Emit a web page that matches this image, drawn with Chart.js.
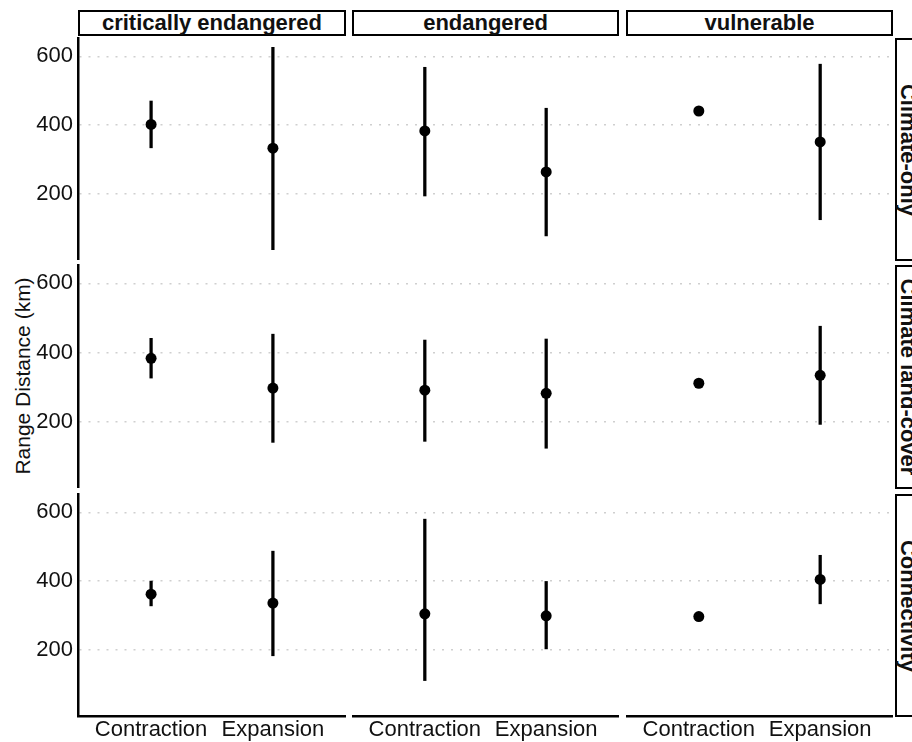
<!DOCTYPE html>
<html>
<head>
<meta charset="utf-8">
<script src="https://cdn.jsdelivr.net/npm/chart.js@4.4.1/dist/chart.umd.min.js"></script>
<style>
  body { margin: 0; background: #fff; }
  #fig { position: relative; width: 912px; height: 742px; overflow: hidden; font-family: "Liberation Sans", Arial, sans-serif; color: #111; }
  #fig canvas { position: absolute; }
  .strip { position: absolute; box-sizing: border-box; border: 2.5px solid #000; background: #fff;
           font-weight: bold; font-size: 22px; display: flex; align-items: center; justify-content: center; white-space: nowrap; }
  .strip.side span { display: block; transform: rotate(90deg); }
  .ytitle { position: absolute; left: 23px; top: 376px; font-size: 21px; white-space: nowrap;
            transform: translate(-50%, -50%) rotate(-90deg); }
</style>
</head>
<body>
<div id="fig">
  <div class="ytitle">Range Distance (km)</div>
</div>
<script>
// facets
const models = ['Climate-only', 'Climate land-cover', 'Connectivity'];
const statuses = ['critically endangered', 'endangered', 'vulnerable'];
const directions = ['Contraction', 'Expansion'];
const yTicks = [200, 400, 600];

// each row: CE contraction, CE expansion, E contraction, E expansion, V contraction, V expansion
const climateOnlyMean = [402, 333, 383, 264, 441, 351];
const climateOnlyLow  = [334, 38, 194, 78, null, 125];
const climateOnlyHigh = [470, 626, 568, 449, null, 577];

const landCoverMean = [383, 297, 291, 282, 311, 334];
const landCoverLow  = [326, 140, 143, 123, null, 192];
const landCoverHigh = [441, 453, 436, 439, null, 476];

const connectivityMean = [362, 336, 305, 299, 297, 405];
const connectivityLow  = [328, 183, 111, 203, null, 334];
const connectivityHigh = [400, 487, 580, 399, null, 475];

const means = [climateOnlyMean, landCoverMean, connectivityMean];
const lows = [climateOnlyLow, landCoverLow, connectivityLow];
const highs = [climateOnlyHigh, landCoverHigh, connectivityHigh];

// panel layout (px)
const colLeft = [78, 352, 626];
const colRight = [346, 619, 893];
const rowTop = [37, 264, 493];
const rowBottom = [260, 488, 716];

const fig = document.getElementById('fig');
const tickFont = { family: '"Liberation Sans", Arial, sans-serif', size: 22 };

statuses.forEach((s, c) => {
  const d = document.createElement('div');
  d.className = 'strip';
  d.style.left = colLeft[c] + 'px';
  d.style.top = '10px';
  d.style.width = (colRight[c] - colLeft[c]) + 'px';
  d.style.height = '26px';
  d.textContent = s;
  fig.appendChild(d);
});

models.forEach((m, r) => {
  const d = document.createElement('div');
  d.className = 'strip side';
  d.style.left = '895px';
  d.style.top = (rowTop[r] + 1) + 'px';
  d.style.width = '27px';
  d.style.height = (rowBottom[r] - rowTop[r]) + 'px';
  d.innerHTML = '<span>' + m + '</span>';
  fig.appendChild(d);
});

for (let r = 0; r < 3; r++) {
  for (let c = 0; c < 3; c++) {
    const leftAxis = c === 0 ? 78 : 0;
    const bottomAxis = r === 2 ? 26 : 0;
    const canvas = document.createElement('canvas');
    const left = colLeft[c] - leftAxis;
    canvas.width = colRight[c] - left;
    canvas.height = rowBottom[r] - rowTop[r] + bottomAxis;
    canvas.style.left = left + 'px';
    canvas.style.top = rowTop[r] + 'px';
    fig.appendChild(canvas);

    const pts = [], bars = [];
    directions.forEach((dir, k) => {
      const i = c * 2 + k;
      pts.push({ x: k + 1, y: means[r][i] });
      if (lows[r][i] != null) bars.push({ x: k + 1, y: [lows[r][i], highs[r][i]] });
    });

    new Chart(canvas, {
      type: 'bar',
      data: {
        datasets: [
          { type: 'scatter', data: pts, backgroundColor: '#000', borderWidth: 0, pointRadius: 5.5, order: 0 },
          { type: 'bar', data: bars, backgroundColor: '#000', borderWidth: 0, barThickness: 2.6, grouped: false, order: 1 }
        ]
      },
      options: {
        responsive: false,
        animation: false,
        layout: { padding: 0, autoPadding: false },
        plugins: { legend: { display: false }, tooltip: { enabled: false } },
        scales: {
          x: {
            type: 'linear', min: 0.4, max: 2.6, offset: false,
            display: r === 2,
            afterBuildTicks: (sc) => { sc.ticks = directions.map((d, k) => ({ value: k + 1 })); },
            afterFit: (sc) => { sc.height = bottomAxis; sc.paddingLeft = 0; sc.paddingRight = 0; },
            grid: { display: false, drawTicks: false },
            border: { display: true, color: '#000', width: 2.5 },
            ticks: { font: tickFont, color: '#111', padding: 1, maxRotation: 0, autoSkip: false,
                     callback: (v) => directions[v - 1] }
          },
          y: {
            min: 8, max: 656,
            afterBuildTicks: (sc) => { sc.ticks = yTicks.map(v => ({ value: v })); },
            afterFit: (sc) => { sc.width = leftAxis; sc.paddingTop = 0; sc.paddingBottom = 0; },
            grid: { color: '#cfcfcf', lineWidth: 1.5, drawTicks: false },
            border: { display: c === 0, color: '#000', width: 2.5, dash: [2, 7] },
            ticks: { display: c === 0, font: tickFont, color: '#111', padding: 5 }
          }
        }
      }
    });
  }
}
</script>
</body>
</html>
